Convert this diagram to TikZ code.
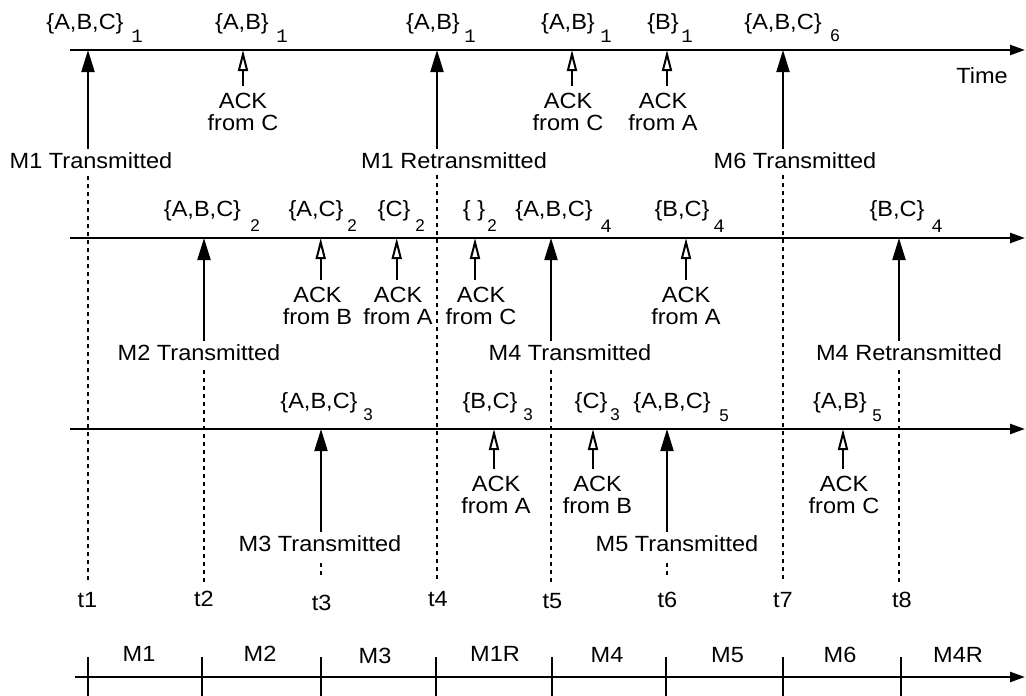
\documentclass[tikz,border=0pt]{standalone}
\usepackage{fontspec}
\setmainfont{Liberation Sans}[FakeStretch=1.07]
\newfontfamily\subsans{Liberation Sans}
\newfontfamily\submono{Liberation Mono}
\usetikzlibrary{arrows.meta}
\begin{document}
\begin{tikzpicture}[x=1pt,y=-1pt,
  lbl/.style={font=\fontsize{22}{21.6}\selectfont, inner sep=0pt, anchor=base},
  ackl/.style={font=\fontsize{22}{21.6}\selectfont, inner sep=0pt, align=center, anchor=north},
  sb/.style={font=\subsans\fontsize{17}{17}\selectfont, inner sep=0pt, anchor=base},
  sbm/.style={font=\submono\fontsize{19}{19}\selectfont, inner sep=0pt, anchor=base},
  axisline/.style={line width=2.4pt, -{Triangle[length=15pt,width=10pt]}},
  tx/.style={line width=2pt, -{Triangle[length=22pt,width=13pt]}, shorten <=3pt},
  ackarrow/.style={line width=2pt, -{Triangle[open,length=21pt,width=10pt]}, shorten <=7pt},
  dotline/.style={line width=2pt, dash pattern=on 4pt off 4pt},
  tickline/.style={line width=2pt}]
\useasboundingbox (0,0) rectangle (1026,696);

% ---------- axes ----------
\coordinate (L1s) at (70,50);  \coordinate (L1e) at (1025,50);
\coordinate (L2s) at (70,238); \coordinate (L2e) at (1025,238);
\coordinate (L3s) at (70,429); \coordinate (L3e) at (1025,429);
\coordinate (L4s) at (75,677); \coordinate (L4e) at (1025,677);
\draw[axisline] (L1s) -- (L1e);
\draw[axisline] (L2s) -- (L2e);
\draw[axisline] (L3s) -- (L3e);
\draw[axisline] (L4s) -- (L4e);
\node[lbl] (time) at (982,83) {Time};

% ---------- row 1 ----------
\node[lbl] (s11) at (85,29) {\{A,B,C\}};  \node[sbm] (s11i) at (137,42) {1};
\node[lbl] (s12) at (242,29) {\{A,B\}};   \node[sbm] (s12i) at (282,42) {1};
\node[lbl] (s13) at (433,29) {\{A,B\}};   \node[sbm] (s13i) at (470,42) {1};
\node[lbl] (s14) at (568,29) {\{A,B\}};   \node[sbm] (s14i) at (606,42) {1};
\node[lbl] (s15) at (663,29) {\{B\}};     \node[sbm] (s15i) at (687,42) {1};
\node[lbl] (s16) at (783,29) {\{A,B,C\}}; \node[sb]  (s16i) at (835,41) {6};

\coordinate (p11) at (88,50);  \coordinate (p12) at (243,50);
\coordinate (p13) at (437,50); \coordinate (p14) at (572,50);
\coordinate (p15) at (667,50); \coordinate (p16) at (783,50);
\node[lbl] (m1t) at (91,168) {M1 Transmitted};
\node[ackl] (a11) at (243,93) {ACK\\from C};
\node[lbl] (m1r) at (454,168) {M1 Retransmitted};
\node[ackl] (a12) at (568,93) {ACK\\from C};
\node[ackl] (a13) at (663,93) {ACK\\from A};
\node[lbl] (m6t) at (795,168) {M6 Transmitted};
\draw[tx] (p11 |- m1t.north) -- (p11);
\draw[ackarrow] (p12 |- a11.north) -- (p12);
\draw[tx] (p13 |- m1r.north) -- (p13);
\draw[ackarrow] (p14 |- a12.north) -- (p14);
\draw[ackarrow] (p15 |- a13.north) -- (p15);
\draw[tx] (p16 |- m6t.north) -- (p16);

% ---------- row 2 ----------
\node[lbl] (s21) at (202.5,216) {\{A,B,C\}}; \node[sb]  (s21i) at (255,231.5) {2};
\node[lbl] (s22) at (316,216) {\{A,C\}};     \node[sb]  (s22i) at (352,231.5) {2};
\node[lbl] (s23) at (394,216) {\{C\}};       \node[sb]  (s23i) at (420,231.5) {2};
\node[lbl] (s24) at (474,216) {\{\ \}};      \node[sb]  (s24i) at (492,231.5) {2};
\node[lbl] (s25) at (554,216) {\{A,B,C\}};   \node[sbm] (s25i) at (606,232) {4};
\node[lbl] (s26) at (682,216) {\{B,C\}};     \node[sbm] (s26i) at (719,232) {4};
\node[lbl] (s27) at (897,216) {\{B,C\}};     \node[sbm] (s27i) at (937,232) {4};

\coordinate (p21) at (204,238);   \coordinate (p22) at (320.7,238);
\coordinate (p23) at (396.7,238); \coordinate (p24) at (475,238);
\coordinate (p25) at (551,238);   \coordinate (p26) at (686,238);
\coordinate (p27) at (899,238);
\node[lbl] (m2t) at (199,360) {M2 Transmitted};
\node[ackl] (a21) at (317.5,287) {ACK\\from B};
\node[ackl] (a22) at (398,287) {ACK\\from A};
\node[ackl] (a23) at (481,287) {ACK\\from C};
\node[lbl] (m4t) at (570,360) {M4 Transmitted};
\node[ackl] (a24) at (686,287) {ACK\\from A};
\node[lbl] (m4r) at (909,360) {M4 Retransmitted};
\draw[tx] (p21 |- m2t.north) -- (p21);
\draw[ackarrow] (p22 |- a21.north) -- (p22);
\draw[ackarrow] (p23 |- a22.north) -- (p23);
\draw[ackarrow] (p24 |- a23.north) -- (p24);
\draw[tx] (p25 |- m4t.north) -- (p25);
\draw[ackarrow] (p26 |- a24.north) -- (p26);
\draw[tx] (p27 |- m4r.north) -- (p27);

% ---------- row 3 ----------
\node[lbl] (s31) at (319,408) {\{A,B,C\}}; \node[sb] (s31i) at (368,420) {3};
\node[lbl] (s32) at (490,408) {\{B,C\}};   \node[sb] (s32i) at (528,420) {3};
\node[lbl] (s33) at (591,408) {\{C\}};     \node[sb] (s33i) at (615,420) {3};
\node[lbl] (s34) at (672,408) {\{A,B,C\}}; \node[sb] (s34i) at (724,421) {5};
\node[lbl] (s35) at (840,408) {\{A,B\}};   \node[sb] (s35i) at (877,421) {5};

\coordinate (p31) at (321,429); \coordinate (p32) at (494,429);
\coordinate (p33) at (593,429); \coordinate (p34) at (667,429);
\coordinate (p35) at (843,429);
\node[lbl] (m3t) at (320,551.5) {M3 Transmitted};
\node[ackl] (a31) at (496,476) {ACK\\from A};
\node[ackl] (a32) at (597.5,476) {ACK\\from B};
\node[lbl] (m5t) at (677,551.5) {M5 Transmitted};
\node[ackl] (a33) at (844,476) {ACK\\from C};
\draw[tx] (p31 |- m3t.north) -- (p31);
\draw[ackarrow] (p32 |- a31.north) -- (p32);
\draw[ackarrow] (p33 |- a32.north) -- (p33);
\draw[tx] (p34 |- m5t.north) -- (p34);
\draw[ackarrow] (p35 |- a33.north) -- (p35);

% ---------- time marks ----------
\node[lbl] (t1) at (87.5,607) {t1};
\node[lbl] (t2) at (204,606) {t2};
\node[lbl] (t3) at (321.7,610) {t3};
\node[lbl] (t4) at (438,606) {t4};
\node[lbl] (t5) at (552.5,608.5) {t5};
\node[lbl] (t6) at (667.5,607) {t6};
\node[lbl] (t7) at (783,607) {t7};
\node[lbl] (t8) at (902,607) {t8};
\coordinate (d1a) at (88,176);  \coordinate (d1b) at (88,582);
\coordinate (d2a) at (204,370); \coordinate (d2b) at (204,582);
\coordinate (d3a) at (321,563); \coordinate (d3b) at (321,578);
\coordinate (d4a) at (437,175); \coordinate (d4b) at (437,582);
\coordinate (d5a) at (551,370); \coordinate (d5b) at (551,582);
\coordinate (d6a) at (667,563); \coordinate (d6b) at (667,578);
\coordinate (d7a) at (783,175); \coordinate (d7b) at (783,582);
\coordinate (d8a) at (899,370); \coordinate (d8b) at (899,582);
\foreach \i in {1,...,8} \draw[dotline] (d\i a) -- (d\i b);

% ---------- bottom schedule ----------
\foreach \n/\x in {1/88,2/202,3/321,4/436,5/552,6/666,7/783,8/901}{
  \coordinate (k\n a) at (\x,657); \coordinate (k\n b) at (\x,696);
  \draw[tickline] (k\n a) -- (k\n b);
}
\node[lbl] (b1) at (139,661.5) {M1};
\node[lbl] (b2) at (260,661.5) {M2};
\node[lbl] (b3) at (375,663) {M3};
\node[lbl] (b4) at (495,661.5) {M1R};
\node[lbl] (b5) at (607,662) {M4};
\node[lbl] (b6) at (727.5,662) {M5};
\node[lbl] (b7) at (840,662) {M6};
\node[lbl] (b8) at (958,662) {M4R};
\end{tikzpicture}
\end{document}
